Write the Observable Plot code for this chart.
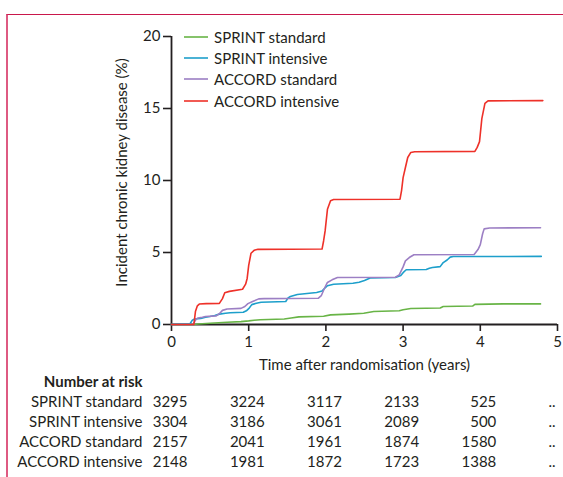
<!DOCTYPE html>
<html><head><meta charset="utf-8">
<script src="https://cdn.jsdelivr.net/npm/d3@7"></script>
<script src="https://cdn.jsdelivr.net/npm/@observablehq/plot@0.6"></script>
<style>
body{margin:0;background:#fff;font-family:Lato,sans-serif;color:#231f20}
#wrap{position:relative;width:563px;height:477px;overflow:hidden;background:#fff}
#frame{position:absolute;left:6px;top:14px;width:620px;height:520px;border-top:1.5px solid #c9174b;border-left:2px solid #de5a82}
#main{position:absolute;left:0;top:0}
#table{position:absolute;left:0;top:372px}
#legend{position:absolute;left:184px;top:26px;font-size:15px}
#legend .row{display:flex;align-items:center;height:21.3px;white-space:nowrap}
#legend svg{margin-right:6px}
svg{overflow:visible}
</style>
</head><body>
<div id="wrap"><div id="frame"></div><div id="main"></div><div id="table"></div><div id="legend"></div></div>
<script>
// ---- data ----
const seriesNames = ["SPRINT standard", "SPRINT intensive", "ACCORD standard", "ACCORD intensive"];
const seriesColors = ["#68b446", "#1d9fcb", "#9c7fc4", "#ee3129"];

const sprintStandard = [[0,0],[0.28,0],[0.35,0.03],[0.5,0.09],[0.72,0.16],[0.9,0.2],[1.0,0.25],[1.07,0.3],[1.15,0.33],[1.46,0.38],[1.55,0.45],[1.65,0.53],[1.97,0.57],[2.06,0.67],[2.3,0.72],[2.49,0.78],[2.62,0.9],[2.95,0.95],[3.0,1.02],[3.1,1.11],[3.48,1.15],[3.52,1.25],[3.9,1.28],[3.93,1.4],[4.3,1.43],[4.78,1.43]];
const sprintIntensive = [[0,0],[0.02,0.02],[0.24,0.05],[0.27,0.3],[0.3,0.38],[0.38,0.42],[0.44,0.5],[0.5,0.55],[0.56,0.62],[0.62,0.72],[0.7,0.78],[0.76,0.82],[0.93,0.85],[0.97,0.95],[1.0,1.1],[1.04,1.38],[1.1,1.48],[1.16,1.55],[1.48,1.6],[1.51,1.85],[1.54,1.94],[1.63,2.08],[1.88,2.22],[1.95,2.32],[1.99,2.55],[2.02,2.69],[2.1,2.8],[2.35,2.86],[2.43,2.94],[2.5,3.05],[2.58,3.24],[2.9,3.26],[2.97,3.4],[3.0,3.6],[3.04,3.8],[3.3,3.82],[3.34,3.9],[3.38,3.96],[3.48,4.02],[3.52,4.3],[3.57,4.48],[3.61,4.68],[3.65,4.72],[4.79,4.73]];
const accordStandard = [[0,0],[0.28,0],[0.31,0.3],[0.34,0.45],[0.4,0.5],[0.44,0.56],[0.58,0.6],[0.62,0.75],[0.66,0.98],[0.72,1.08],[0.9,1.12],[0.95,1.25],[0.99,1.45],[1.05,1.6],[1.13,1.78],[1.2,1.8],[1.9,1.82],[1.94,2.0],[1.98,2.5],[2.02,2.92],[2.08,3.1],[2.15,3.26],[2.9,3.28],[2.95,3.45],[3.0,4.0],[3.03,4.42],[3.08,4.65],[3.14,4.84],[3.92,4.86],[3.97,5.2],[4.0,5.55],[4.03,6.3],[4.05,6.64],[4.12,6.7],[4.78,6.72]];
const accordIntensive = [[0,0],[0.29,0],[0.31,0.9],[0.335,1.3],[0.36,1.42],[0.45,1.45],[0.62,1.47],[0.66,1.8],[0.69,2.2],[0.75,2.3],[0.92,2.45],[0.96,2.8],[0.98,3.2],[1.0,4.1],[1.03,4.95],[1.07,5.15],[1.12,5.22],[1.95,5.24],[1.97,5.8],[1.99,6.5],[2.02,8.0],[2.06,8.6],[2.1,8.68],[2.96,8.7],[2.98,9.3],[3.0,10.2],[3.03,10.9],[3.06,11.6],[3.1,11.95],[3.15,12.0],[3.93,12.02],[3.96,12.3],[3.99,12.7],[4.02,14.3],[4.06,15.35],[4.1,15.53],[4.81,15.55]];

const xTicks = [0, 1, 2, 3, 4, 5];
const yTicks = [0, 5, 10, 15, 20];
const xLabel = "Time after randomisation (years)";
const yLabel = "Incident chronic kidney disease (%)";

const riskHeading = "Number at risk";
const riskTimes = [0, 1, 2, 3, 4];
const riskSprintStandard = [3295, 3224, 3117, 2133, 525];
const riskSprintIntensive = [3304, 3186, 3061, 2089, 500];
const riskAccordStandard = [2157, 2041, 1961, 1874, 1580];
const riskAccordIntensive = [2148, 1981, 1872, 1723, 1388];
const riskMore = "..";

// ---- build tables ----
const curves = [sprintStandard, sprintIntensive, accordStandard, accordIntensive];
const lineRows = curves.flatMap((c, i) => c.map(([t, v]) => ({series: seriesNames[i], t, v})));
const riskLists = [riskSprintStandard, riskSprintIntensive, riskAccordStandard, riskAccordIntensive];
const riskRows = riskLists.flatMap((l, i) => l.map((n, j) => ({series: seriesNames[i], t: riskTimes[j], n})));

const ink = "#231f20";
const main = Plot.plot({
  width: 563, height: 380,
  marginLeft: 171, marginRight: 6, marginTop: 36, marginBottom: 56,
  style: {fontFamily: "Lato, sans-serif", fontSize: "15px", color: ink, background: "transparent"},
  x: {domain: [0, 5]},
  y: {domain: [0, 20]},
  color: {domain: seriesNames, range: seriesColors},
  marks: [
    Plot.axisY({ticks: yTicks, tickFormat: d3.format("d"), tickSize: 8, tickPadding: 3, label: null, strokeWidth: 1.6, fontSize: 15}),
    Plot.axisX({ticks: xTicks, tickFormat: d3.format("d"), tickSize: 7, tickPadding: 5, label: null, strokeWidth: 1.6, fontSize: 15}),
    Plot.ruleX([0], {stroke: ink, strokeWidth: 1.8}),
    Plot.ruleY([0], {stroke: ink, strokeWidth: 1.8}),
    Plot.line(lineRows, {x: "t", y: "v", z: "series", stroke: "series", strokeWidth: 1.6}),
    Plot.text([xLabel], {text: d => d, frameAnchor: "bottom", dy: 45, fontSize: 15}),
    Plot.text([yLabel], {text: d => d, frameAnchor: "left", textAnchor: "middle", rotate: -90, dx: -49, dy: -8, fontSize: 15})
  ]
});
document.getElementById("main").appendChild(main);

const table = Plot.plot({
  width: 563, height: 105,
  marginLeft: 171, marginRight: 6, marginTop: 0, marginBottom: 0,
  style: {fontFamily: "Lato, sans-serif", fontSize: "15px", color: ink, background: "transparent"},
  x: {domain: [0, 5], axis: null},
  y: {type: "point", domain: [riskHeading, ...seriesNames], range: [9, 90], padding: 0, axis: null},
  marks: [
    Plot.text([riskHeading], {y: d => d, text: d => d, frameAnchor: "left", textAnchor: "end", dx: -29, fontWeight: "bold", fontSize: 15}),
    Plot.text(seriesNames, {y: d => d, text: d => d, frameAnchor: "left", textAnchor: "end", dx: -29, fontSize: 15}),
    Plot.text(riskRows, {x: "t", y: "series", text: d => String(d.n), textAnchor: "end", dx: 16, fontSize: 15}),
    Plot.text(seriesNames, {y: d => d, text: () => riskMore, frameAnchor: "right", textAnchor: "end", dx: -2, fontSize: 15})
  ]
});
document.getElementById("table").appendChild(table);

// legend
const leg = document.getElementById("legend");
seriesNames.forEach((name, i) => {
  const row = document.createElement("div");
  row.className = "row";
  row.innerHTML = `<svg width="24" height="4"><line x1="0" x2="24" y1="2" y2="2" stroke="${seriesColors[i]}" stroke-width="1.6"/></svg><span>${name}</span>`;
  leg.appendChild(row);
});
</script>
</body></html>
